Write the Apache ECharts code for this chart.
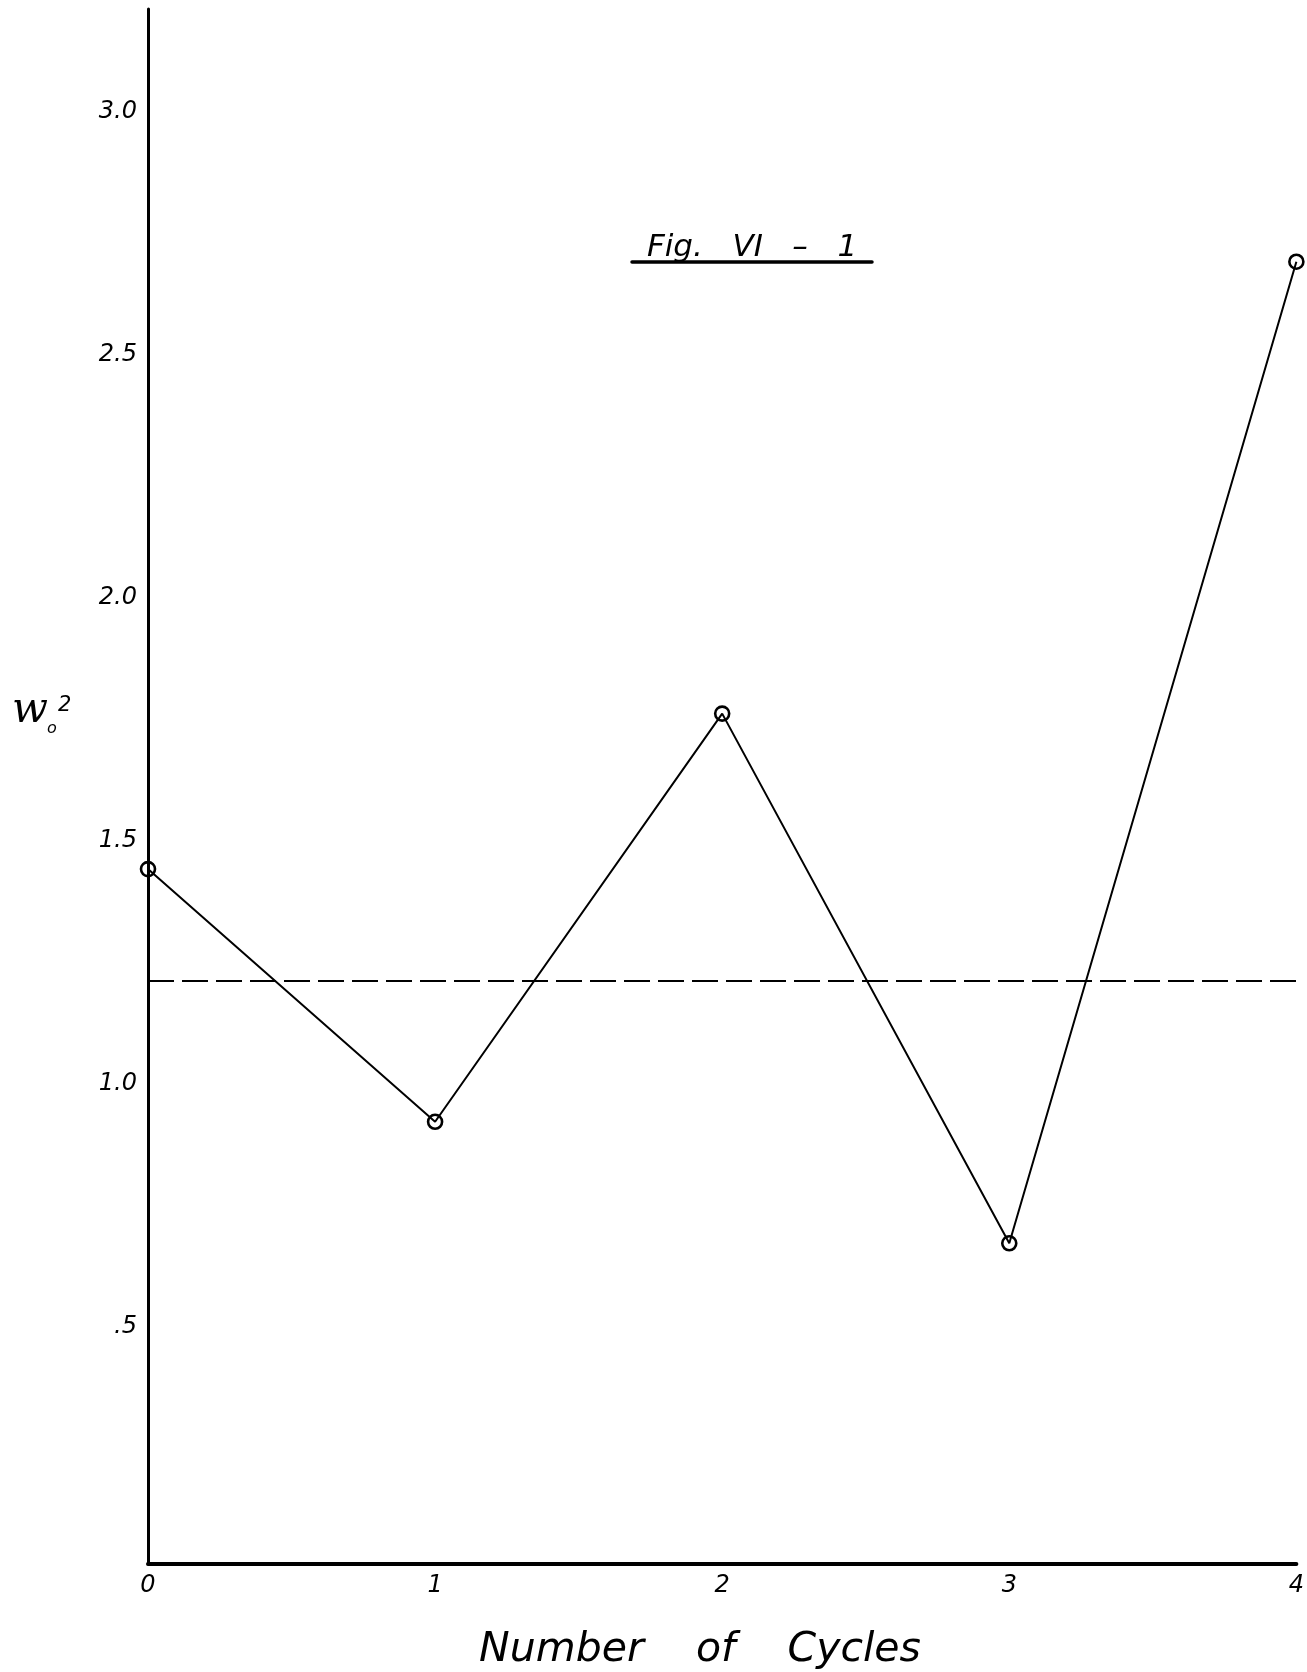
<!DOCTYPE html>
<html>
<head>
<meta charset="utf-8">
<script src="https://cdn.jsdelivr.net/npm/echarts@6/dist/echarts.min.js"></script>
<style>
  html, body { margin: 0; padding: 0; background: #fff; }
  #chart { width: 1307px; height: 1672px; }
</style>
</head>
<body>
<div id="chart"></div>
<script>
// Number of cycles on the horizontal axis
const cycles = [0, 1, 2, 3, 4];
// w0^2 measured after each cycle
const w0sq = [1.43, 0.91, 1.75, 0.66, 2.68];
// Horizontal dashed reference level
const referenceLevel = 1.20;
// Tick labels
const yTickValues = [0.5, 1.0, 1.5, 2.0, 2.5, 3.0];
const yTickLabels = ['.5', '1.0', '1.5', '2.0', '2.5', '3.0'];
const xTickLabels = ['0', '1', '2', '3', '4'];

const labelFont = {
  fontFamily: 'DejaVu Sans',
  fontStyle: 'italic',
  fontSize: 24,
  color: '#000'
};

const chart = echarts.init(document.getElementById('chart'), null, { renderer: 'canvas' });

chart.setOption({
  backgroundColor: '#fff',
  animation: false,
  grid: { left: 148, right: 7, top: 9, bottom: 108, containLabel: false },
  graphic: [
    // figure title with its underline
    {
      type: 'text',
      x: 752,
      y: 248,
      style: {
        text: 'Fig.   VI   \u2013   1',
        font: 'italic 31px "DejaVu Sans"',
        fill: '#000',
        align: 'center',
        verticalAlign: 'middle'
      }
    },
    {
      type: 'line',
      shape: { x1: 632, y1: 262, x2: 872, y2: 262 },
      style: { stroke: '#000', lineWidth: 3.5, lineCap: 'round' }
    },
    // y-axis label: w sub 0, superscript 2
    { type: 'text', x: 12, y: 711, style: { text: 'w', font: 'italic 42px "DejaVu Serif"', fill: '#000', verticalAlign: 'middle' } },
    { type: 'text', x: 47, y: 729, style: { text: 'o', font: 'italic 16px "DejaVu Sans"', fill: '#000', verticalAlign: 'middle' } },
    { type: 'text', x: 58, y: 706, style: { text: '2', font: 'italic 21px "DejaVu Sans"', fill: '#000', verticalAlign: 'middle' } },
    // x-axis title
    {
      type: 'text',
      x: 700,
      y: 1650,
      style: {
        text: 'Number    of    Cycles',
        font: 'italic 41px "DejaVu Sans"',
        fill: '#000',
        align: 'center',
        verticalAlign: 'middle'
      }
    }
  ],
  xAxis: {
    type: 'value',
    min: 0,
    max: 4,
    interval: 1,
    axisLine: { show: true, onZero: false, lineStyle: { color: '#000', width: 4 } },
    axisTick: { show: false },
    splitLine: { show: false },
    axisLabel: Object.assign({}, labelFont, {
      margin: 10,
      formatter: function (v) {
        const i = cycles.indexOf(v);
        return i >= 0 ? xTickLabels[i] : '';
      }
    })
  },
  yAxis: {
    type: 'value',
    min: 0,
    max: 3.2,
    interval: 0.5,
    axisLine: { show: true, onZero: false, lineStyle: { color: '#000', width: 3 } },
    axisTick: { show: false },
    splitLine: { show: false },
    axisLabel: Object.assign({}, labelFont, {
      margin: 11,
      rich: {
        t: {
          fontFamily: 'DejaVu Sans',
          fontStyle: 'italic',
          fontSize: 24,
          color: '#000',
          padding: [12, 0, 0, 0]
        }
      },
      formatter: function (v) {
        for (let i = 0; i < yTickValues.length; i++) {
          if (Math.abs(yTickValues[i] - v) < 1e-9) return '{t|' + yTickLabels[i] + '}';
        }
        return '';
      }
    })
  },
  series: [
    {
      type: 'line',
      data: cycles.map((c, i) => [c, w0sq[i]]),
      clip: false,
      symbol: 'circle',
      symbolSize: 14,
      itemStyle: { color: 'rgba(0,0,0,0)', borderColor: '#000', borderWidth: 2.6 },
      lineStyle: { color: '#000', width: 2 },
      z: 3,
      markLine: {
        silent: true,
        symbol: ['none', 'none'],
        label: { show: false },
        lineStyle: { color: '#000', width: 2, type: [26, 8] },
        data: [{ yAxis: referenceLevel }]
      }
    }
  ]
});
</script>
</body>
</html>
